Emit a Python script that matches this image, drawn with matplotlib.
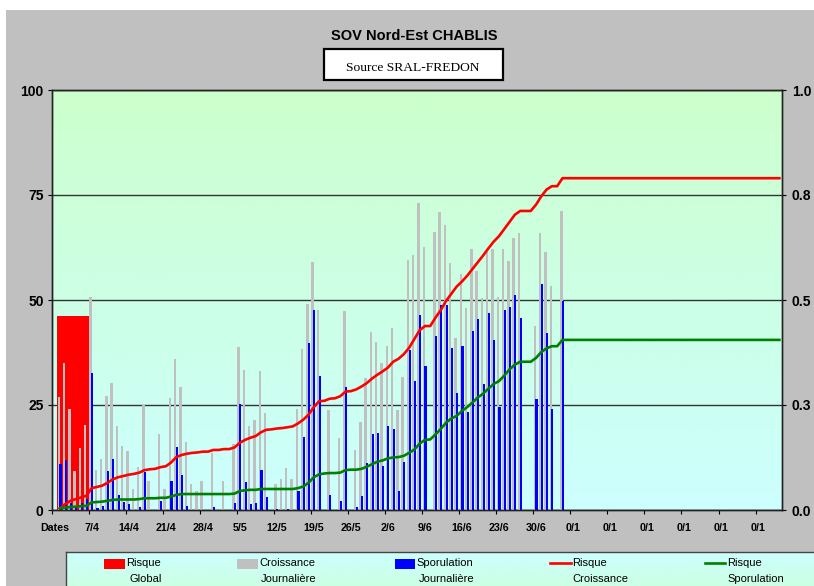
import numpy as np
import matplotlib
matplotlib.use('Agg')
import matplotlib.pyplot as plt
from matplotlib.patches import Rectangle
from matplotlib.lines import Line2D

plt.rcParams['font.family'] = ['Liberation Sans', 'DejaVu Sans']

# ---------------- data ----------------
title = 'SOV Nord-Est CHABLIS'
source = 'Source SRAL-FREDON'
xtick_labels = ['Dates', '7/4', '14/4', '21/4', '28/4', '5/5', '12/5', '19/5', '26/5',
                '2/6', '9/6', '16/6', '23/6', '30/6', '0/1', '0/1', '0/1', '0/1', '0/1', '0/1']
left_ticks = [0, 25, 50, 75, 100]
right_ticks = [0.0, 0.25, 0.5, 0.75, 1.0]
right_tick_labels = ['0.0', '0.3', '0.5', '0.8', '1.0']

# Risque Global (single bar)
risque_global = [46.3]

# Croissance journalière (days 1..96)
croissance = [26.8, 35.1, 24.0, 9.4, 14.8, 20.2, 50.8, 9.5, 12.1, 27.1,
              30.3, 20.0, 15.3, 14.1, 5.0, 10.3, 25.0, 6.8, 0, 18.0,
              4.9, 26.6, 35.9, 29.4, 16.1, 6.2, 4.6, 6.9, 0, 13.5,
              0, 6.9, 0, 15.7, 38.7, 33.4, 20.0, 21.4, 33.2, 23.2,
              0, 6.1, 7.3, 9.9, 7.5, 24.0, 38.4, 49.0, 59.0, 47.6,
              0, 23.7, 0, 17.2, 47.4, 0, 14.3, 20.9, 31.4, 42.5,
              40.1, 34.9, 39.1, 43.3, 23.8, 31.7, 59.6, 60.6, 73.0, 62.7,
              0, 66.2, 71.0, 67.8, 58.8, 41.0, 56.1, 48.0, 62.1, 56.9,
              50.4, 61.4, 62.2, 50.8, 62.1, 59.4, 64.8, 65.9, 0, 0,
              43.8, 66.0, 61.4, 53.3, 0, 71.2]

# Sporulation journalière (days 1..96)
sporulation = [11.0, 11.9, 1.7, 1.0, 1.7, 2.6, 32.7, 0.5, 1.0, 9.3,
               12.1, 3.6, 2.0, 1.4, 0, 0.7, 9.1, 0, 0, 2.1,
               0, 6.9, 15.1, 8.4, 1.0, 0, 0, 0, 0, 0.7,
               0, 0, 0, 1.7, 25.2, 6.7, 1.4, 1.6, 9.5, 3.0,
               0, 0.3, 0, 0.3, 0, 4.6, 17.3, 39.7, 47.6, 31.9,
               0, 3.6, 0, 2.2, 29.4, 0, 0.6, 3.3, 11.3, 18.1,
               18.4, 10.5, 20.0, 19.4, 4.5, 11.4, 38.1, 30.7, 46.4, 34.3,
               0, 41.4, 48.8, 48.8, 38.6, 27.9, 39.0, 23.4, 42.6, 45.5,
               30.0, 46.9, 40.5, 24.5, 47.6, 48.3, 51.2, 45.8, 0, 0,
               26.4, 53.8, 42.1, 24.0, 0, 49.8]

# Risque Croissance (right axis, days 1..96, flat afterwards)
risque_croissance = [0.004, 0.014, 0.022, 0.026, 0.030, 0.034, 0.052, 0.055, 0.058, 0.065,
                     0.073, 0.078, 0.081, 0.084, 0.086, 0.089, 0.095, 0.097, 0.098, 0.102,
                     0.104, 0.113, 0.126, 0.131, 0.134, 0.136, 0.137, 0.139, 0.139, 0.143,
                     0.143, 0.145, 0.145, 0.149, 0.160, 0.167, 0.172, 0.176, 0.185, 0.191,
                     0.192, 0.194, 0.195, 0.197, 0.199, 0.206, 0.215, 0.227, 0.245, 0.259,
                     0.260, 0.265, 0.266, 0.271, 0.282, 0.283, 0.287, 0.294, 0.302, 0.313,
                     0.322, 0.330, 0.339, 0.353, 0.360, 0.371, 0.386, 0.407, 0.428, 0.438,
                     0.438, 0.458, 0.476, 0.498, 0.515, 0.532, 0.544, 0.558, 0.574, 0.590,
                     0.606, 0.623, 0.639, 0.652, 0.669, 0.686, 0.703, 0.712, 0.712, 0.712,
                     0.727, 0.747, 0.763, 0.771, 0.771, 0.790]

# Risque Sporulation (right axis, days 1..96, flat afterwards)
risque_sporulation = [0.004, 0.006, 0.007, 0.008, 0.009, 0.010, 0.018, 0.019, 0.020, 0.022,
                      0.024, 0.025, 0.025, 0.025, 0.025, 0.026, 0.028, 0.028, 0.028, 0.029,
                      0.029, 0.032, 0.036, 0.038, 0.038, 0.038, 0.038, 0.038, 0.038, 0.038,
                      0.038, 0.038, 0.038, 0.039, 0.045, 0.047, 0.048, 0.048, 0.050, 0.050,
                      0.050, 0.050, 0.050, 0.050, 0.050, 0.052, 0.056, 0.065, 0.078, 0.085,
                      0.087, 0.088, 0.088, 0.089, 0.095, 0.096, 0.096, 0.098, 0.103, 0.109,
                      0.115, 0.118, 0.123, 0.125, 0.126, 0.129, 0.136, 0.144, 0.158, 0.167,
                      0.168, 0.180, 0.193, 0.208, 0.218, 0.224, 0.236, 0.245, 0.256, 0.268,
                      0.277, 0.289, 0.300, 0.307, 0.320, 0.335, 0.346, 0.353, 0.353, 0.353,
                      0.362, 0.376, 0.385, 0.390, 0.390, 0.405]

N_CAT = 138          # number of daily categories on the axis
LAST_DAY = 137

# ---------------- layout helpers ----------------
W, H = 814, 586
def fx(x):
    return x / W
def fy(y):
    return 1 - y / H

fig = plt.figure(figsize=(W / 100, H / 100), dpi=100)
fig.patch.set_facecolor('white')
fig.patches.append(Rectangle((fx(6), 0), (W - 6) / W, fy(10), transform=fig.transFigure,
                             facecolor='#C0C0C0', edgecolor='none', zorder=-10))

ax = fig.add_axes([fx(52), fy(510), 730 / W, 420 / H])
ax.set_zorder(1)

# gradient plot area
g = np.linspace(0, 1, 256)[:, None, None]
top_c = np.array([204, 255, 204]) / 255
bot_c = np.array([204, 255, 255]) / 255
grad = top_c * (1 - g) + bot_c * g
ax.imshow(grad, extent=[0, N_CAT, 0, 100], aspect='auto', origin='upper', zorder=0)

days = np.arange(1, len(croissance) + 1)
GRAY_OFF, GRAY_W = 0.28, 0.46
BLUE_OFF, BLUE_W = 0.60, 0.40
GLOBAL_X, GLOBAL_W = 3.97, 6.05

ax.bar([GLOBAL_X], risque_global, width=GLOBAL_W, color='#FF0000', linewidth=0, zorder=2)
ax.bar(days + GRAY_OFF, croissance, width=GRAY_W, color='#C0C0C0', linewidth=0, zorder=3)
ax.bar(days + BLUE_OFF, sporulation, width=BLUE_W, color='#0000FF', linewidth=0, zorder=4)

ax.set_xlim(0, N_CAT)
ax.set_ylim(0, 100)
ax.set_axisbelow(True)
ax.grid(axis='y', color='#333333', linewidth=1.0)
ax.grid(axis='x', visible=False)

ax.set_yticks(left_ticks, [str(v) for v in left_ticks], fontsize=10, fontweight='bold')
ax.tick_params(axis='y', direction='out', length=3, width=0.8, pad=3)

major = np.arange(0, 7 * len(xtick_labels), 7)
ax.set_xticks(major, [''] * len(major))
ax.set_xticks(major + 0.5, xtick_labels, minor=True, fontsize=7.7, fontweight='bold')
ax.tick_params(axis='x', which='major', direction='out', length=3, width=0.8)
ax.tick_params(axis='x', which='minor', length=0, pad=9.5)

for s in ax.spines.values():
    s.set_color('#222222')
    s.set_linewidth(1.0)

ax2 = ax.twinx()
ax2.set_ylim(0, 1)
line_x = np.arange(1, LAST_DAY + 1) + 0.5
rc = np.array(risque_croissance + [risque_croissance[-1]] * (LAST_DAY - len(risque_croissance)))
rs = np.array(risque_sporulation + [risque_sporulation[-1]] * (LAST_DAY - len(risque_sporulation)))
ax2.plot(line_x, rc, color='#FF0000', linewidth=1.9, solid_joinstyle='round')
ax2.plot(line_x, rs, color='#008000', linewidth=1.9, solid_joinstyle='round')
ax2.set_yticks(right_ticks, right_tick_labels, fontsize=10, fontweight='bold')
ax2.tick_params(axis='y', direction='out', length=3, width=0.8, pad=4)
for s in ax2.spines.values():
    s.set_color('#222222')
    s.set_linewidth(1.0)

# ---------------- title and source box ----------------
fig.text(fx(414), fy(36), title, ha='center', va='center', fontsize=10.5, fontweight='bold')
fig.patches.append(Rectangle((fx(324), fy(80)), 179 / W, 31 / H, transform=fig.transFigure,
                             facecolor='white', edgecolor='black', linewidth=1.6, zorder=5))
fig.text(fx(413), fy(68), source, ha='center', va='center', fontsize=9.7,
         family=['Liberation Serif', 'DejaVu Serif'], zorder=6)

# ---------------- legend ----------------
lax = fig.add_axes([fx(66), -0.05, 1.0, (586 - 552) / H + 0.05])
lgrad = bot_c * (1 - g) + top_c * g
lax.imshow(lgrad, extent=[0, 1, 0, 1], aspect='auto', origin='upper')
lax.set_xlim(0, 1)
lax.set_ylim(0, 1)
lax.set_xticks([])
lax.set_yticks([])
for s in lax.spines.values():
    s.set_color('#444444')
    s.set_linewidth(1.0)

def leg_patch(x0, x1, color):
    fig.patches.append(Rectangle((fx(x0), fy(569)), (x1 - x0) / W, 10 / H,
                                 transform=fig.transFigure, facecolor=color,
                                 edgecolor='none', zorder=5))

def leg_line(x0, x1, color):
    fig.add_artist(Line2D([fx(x0), fx(x1)], [fy(563), fy(563)], transform=fig.transFigure,
                          color=color, linewidth=1.9, zorder=5))

def leg_text(x, y, s):
    fig.text(fx(x), fy(y), s, ha='left', va='center', fontsize=8, zorder=6)

leg_patch(104, 125, '#FF0000')
leg_text(126, 563, 'Risque')
leg_text(130, 579, 'Global')
leg_patch(237, 258, '#C0C0C0')
leg_text(259, 563, 'Croissance')
leg_text(261, 579, 'Journalière')
leg_patch(395, 415, '#0000FF')
leg_text(416, 563, 'Sporulation')
leg_text(419, 579, 'Journalière')
leg_line(550, 571, '#FF0000')
leg_text(572, 563, 'Risque')
leg_text(572, 579, 'Croissance')
leg_line(705, 725, '#008000')
leg_text(727, 563, 'Risque')
leg_text(727, 579, 'Sporulation')

fig.savefig('out.png', dpi=100)
